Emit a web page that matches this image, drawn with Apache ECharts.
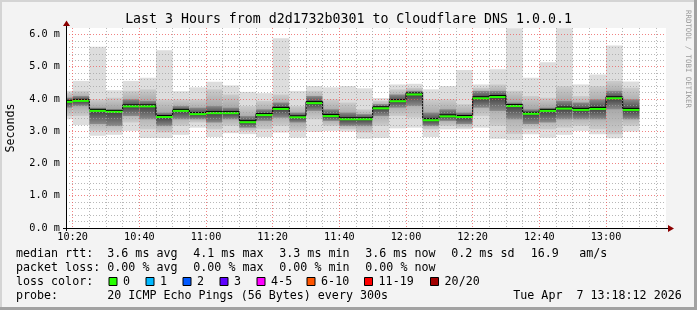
<!DOCTYPE html>
<html><head><meta charset="utf-8">
<script src="https://cdn.jsdelivr.net/npm/echarts@6/dist/echarts.min.js"></script>
<style>html,body{margin:0;padding:0;background:#f3f3f3;}#c{width:697px;height:310px;}</style>
</head><body><div id="c"></div>
<script>
// ---------------- data ----------------
const titleText = 'Last 3 Hours from d2d1732b0301 to Cloudflare DNS 1.0.0.1';
const axisStart = '10:18';
const axisEnd = '13:18';
const slotMinutes = 5;
const slotStarts = ['10:15','10:20','10:25','10:30','10:35','10:40','10:45','10:50','10:55',
  '11:00','11:05','11:10','11:15','11:20','11:25','11:30','11:35','11:40','11:45','11:50','11:55',
  '12:00','12:05','12:10','12:15','12:20','12:25','12:30','12:35','12:40','12:45','12:50','12:55',
  '13:00','13:05'];
// smoke (ms): min, lower bands, median, upper bands, max
const pingMin = [3.37,3.19,2.86,2.89,3.01,2.79,2.79,2.89,3.11,2.82,2.94,2.91,2.82,2.96,2.80,2.98,3.01,2.99,2.77,2.79,3.09,3.11,2.82,3.06,3.06,3.11,2.77,2.73,2.91,2.80,2.89,3.01,2.91,2.78,2.99];
const pingLo2 = [3.47,3.47,3.01,3.01,3.27,3.06,2.96,3.16,3.27,3.06,3.16,3.01,3.06,3.16,3.01,3.37,3.16,3.06,2.96,3.16,3.47,3.42,3.06,3.16,3.11,3.47,3.16,2.91,3.06,3.06,3.11,3.16,3.06,2.91,3.16];
const pingLo1 = [3.73,3.78,3.22,3.16,3.47,3.37,3.16,3.37,3.37,3.27,3.37,3.11,3.32,3.42,3.27,3.63,3.32,3.16,3.16,3.47,3.73,3.78,3.16,3.32,3.22,3.73,3.63,3.37,3.22,3.27,3.37,3.37,3.37,3.68,3.37];
const pingMedian = [3.91,3.94,3.63,3.60,3.77,3.77,3.44,3.63,3.53,3.56,3.56,3.28,3.50,3.69,3.43,3.87,3.47,3.37,3.37,3.71,3.93,4.14,3.34,3.46,3.44,4.02,4.06,3.78,3.54,3.63,3.70,3.66,3.69,4.02,3.66];
const pingHi1 = [4.04,4.09,3.73,3.68,3.99,3.94,3.58,3.78,3.73,3.78,3.73,3.47,3.68,3.89,3.58,4.09,3.68,3.58,3.53,3.84,4.14,4.25,3.58,3.68,3.58,4.25,4.25,3.89,3.68,3.73,3.94,3.89,3.99,4.25,3.99];
const pingHi2 = [4.20,4.25,3.99,4.04,4.25,4.30,3.99,3.99,3.99,4.30,4.14,3.78,3.94,4.14,3.78,4.25,3.99,3.89,3.68,3.94,4.30,4.35,3.99,3.99,3.84,4.35,4.45,4.25,4.09,4.04,4.40,4.09,4.40,4.56,4.35];
const pingMax = [4.25,4.56,5.62,4.27,4.56,4.66,5.51,4.24,4.36,4.53,4.42,4.22,4.18,5.88,4.25,4.40,4.36,4.40,4.33,4.03,4.45,4.47,4.30,4.40,4.90,4.45,4.92,6.19,4.66,5.14,6.19,4.45,4.76,5.66,4.54];
const lossIndex = [0,0,0,0,0,0,0,0,0,0,0,0,0,0,0,0,0,0,0,0,0,0,0,0,0,0,0,0,0,0,0,0,0,0,0];
const yMin = 0, yMax = 6.2, yMinorStep = 0.2, yMajorStep = 1;
const xMajorStep = 20, xMinorStep = 5;
const medianStats = ['3.6 ms avg','4.1 ms max','3.3 ms min','3.6 ms now','0.2 ms sd','16.9','am/s'];
const lossStats = ['0.00 % avg','0.00 % max','0.00 % min','0.00 % now'];
const lossLabels = ['0','1','2','3','4-5','6-10','11-19','20/20'];
const lossColors = ['#26ff00','#00b8ff','#0059ff','#5e00ff','#ff00ff','#ff5500','#ff0000','#a10000'];
const probeText = '20 ICMP Echo Pings (56 Bytes) every 300s';
const stampText = 'Tue Apr  7 13:18:12 2026';
const watermark = 'RRDTOOL / TOBI OETIKER';

// ---------------- helpers ----------------
const toMin = s => { const [h, m] = s.split(':').map(Number); return (h - 10) * 60 + m; };
const fmt = t => { const h = 10 + Math.floor(t / 60), m = t % 60; return h + ':' + (m < 10 ? '0' : '') + m; };
const xMin = toMin(axisStart), xMax = toMin(axisEnd);
const MONO = '"DejaVu Sans Mono", monospace';
const GRID = { left: 66, top: 28, width: 600, height: 200 };

const xColors = [];
for (let t = xMin; t <= xMax; t++) xColors.push(t % xMajorStep === 0 ? 'rgba(235,90,90,0.75)' : (t % xMinorStep === 0 ? 'rgba(160,160,160,0.75)' : 'rgba(0,0,0,0)'));
const yColors = [];
for (let i = 0; i <= Math.round((yMax - yMin) / yMinorStep); i++) yColors.push(i % Math.round(yMajorStep / yMinorStep) === 0 ? 'rgba(235,90,90,0.75)' : 'rgba(160,160,160,0.75)');

const smokeData = slotStarts.map((s, i) => {
  const a = toMin(s);
  return [a, a + slotMinutes, pingMin[i], pingLo2[i], pingLo1[i], pingMedian[i], pingHi1[i], pingHi2[i], pingMax[i]];
});

function clip(r, cs) {
  return echarts.graphic.clipRectByRect(r, { x: cs.x, y: cs.y, width: cs.width, height: cs.height });
}

function renderSmoke(params, api) {
  const cs = params.coordSys;
  const s = api.value(0), e = api.value(1);
  const band = (lo, hi, fill) => {
    const p0 = api.coord([s, hi]), p1 = api.coord([e, lo]);
    const r = clip({ x: p0[0], y: p0[1], width: p1[0] - p0[0], height: p1[1] - p0[1] }, cs);
    return r ? { type: 'rect', shape: r, style: { fill: fill } } : null;
  };
  const lo1 = api.value(4), med = api.value(5), hi1 = api.value(6);
  const t = Math.min(0.95, Math.max(0.05, (hi1 - med) / (hi1 - lo1)));
  const lo2 = api.value(3), hi2 = api.value(7);
  const t2 = Math.min(0.95, Math.max(0.05, (hi2 - med) / (hi2 - lo2)));
  const children = [
    band(api.value(2), api.value(8), '#dddddd'),
    band(lo2, hi2, new echarts.graphic.LinearGradient(0, 0, 0, 1, [
      { offset: 0, color: '#cccccc' }, { offset: t2, color: '#999999' }, { offset: 1, color: '#cccccc' }])),
    band(lo1, hi1, new echarts.graphic.LinearGradient(0, 0, 0, 1, [
      { offset: 0, color: '#8c8c8c' }, { offset: t, color: '#424242' }, { offset: 1, color: '#8c8c8c' }]))
  ].filter(Boolean);
  return { type: 'group', children };
}

function renderMedian(params, api) {
  const cs = params.coordSys;
  const i = params.dataIndex;
  const s = api.value(0), e = api.value(1), m = api.value(5);
  const p0 = api.coord([s, m]), p1 = api.coord([e, m]);
  const x0 = Math.max(p0[0], cs.x), x1 = Math.min(p1[0], cs.x + cs.width);
  const children = [];
  if (i > 0) {
    const q = api.coord([s, pingMedian[i - 1]]);
    if (q[0] >= cs.x) children.push({ type: 'line', shape: { x1: q[0], y1: q[1] - 1.5, x2: p0[0], y2: p0[1] - 1.5 }, style: { stroke: '#000', lineWidth: 1 } });
  }
  children.push({ type: 'line', shape: { x1: x0, y1: p0[1] - 1.5, x2: x1, y2: p0[1] - 1.5 }, style: { stroke: '#000', lineWidth: 1 } });
  children.push({ type: 'line', shape: { x1: x0, y1: p0[1], x2: x1, y2: p0[1] }, style: { stroke: lossColors[lossIndex[i]], lineWidth: 2 } });
  return { type: 'group', children };
}

// ---------------- legend graphics ----------------
const txt = (x, y, text, opts) => Object.assign({ type: 'text', x, y, style: Object.assign({ text, fontFamily: MONO, fontSize: 11.66, fill: '#000', verticalAlign: 'middle', align: 'left' }, opts || {}) });
const rowY = [254.3, 267.7, 281.7, 296];
const medX = [107.3, 193.3, 279.3, 365.3, 451.3, 530.7, 579.3];
const lossX = [107.3, 193.3, 279.3, 365.3];
const boxX = [108.5, 145.5, 182.5, 219.5, 256.5, 306.5, 364, 430];
const graphics = [];
graphics.push(txt(348.5, 19.5, titleText, { fontSize: 13.25, align: 'center' }));
graphics.push(txt(16, rowY[0], 'median rtt:'));
medianStats.forEach((s, i) => graphics.push(txt(medX[i], rowY[0], s)));
graphics.push(txt(16, rowY[1], 'packet loss:'));
lossStats.forEach((s, i) => graphics.push(txt(lossX[i], rowY[1], s)));
graphics.push(txt(16, rowY[2], 'loss color:'));
lossLabels.forEach((l, i) => {
  graphics.push({ type: 'rect', shape: { x: boxX[i] + 0.5, y: 277.5, width: 8, height: 8 }, style: { fill: lossColors[i], stroke: '#000', lineWidth: 1 } });
  graphics.push(txt(boxX[i] + 14.6, rowY[2], l));
});
graphics.push(txt(16, rowY[3], 'probe:'));
graphics.push(txt(107.3, rowY[3], probeText));
graphics.push(txt(513.3, rowY[3], stampText));
graphics.push(txt(687.5, 59, watermark, { fontSize: 7.4, fill: '#9a9a9a', align: 'center' }));
graphics[graphics.length - 1].rotation = -Math.PI / 2;
// frame shading
graphics.push({ type: 'rect', shape: { x: 0, y: 0, width: 697, height: 2 }, style: { fill: '#d4d4d4' } });
graphics.push({ type: 'rect', shape: { x: 0, y: 0, width: 2, height: 310 }, style: { fill: '#d4d4d4' } });
graphics.push({ type: 'rect', shape: { x: 0, y: 307, width: 697, height: 3 }, style: { fill: '#a2a2a2' } });
graphics.push({ type: 'rect', shape: { x: 694, y: 0, width: 3, height: 310 }, style: { fill: '#a2a2a2' } });
// axis arrows
const axX = GRID.left, axY = GRID.top + GRID.height, axR = GRID.left + GRID.width;
graphics.push({ type: 'line', shape: { x1: axR, y1: axY + 0.5, x2: axR + 4, y2: axY + 0.5 }, style: { stroke: '#000', lineWidth: 1 }, z: 50 });
graphics.push({ type: 'polygon', shape: { points: [[axR + 2, axY - 3], [axR + 8, axY + 0.5], [axR + 2, axY + 4]] }, style: { fill: '#8b0000' }, z: 50 });
graphics.push({ type: 'line', shape: { x1: axX + 0.5, y1: GRID.top, x2: axX + 0.5, y2: GRID.top - 3 }, style: { stroke: '#000', lineWidth: 1 }, z: 50 });
graphics.push({ type: 'polygon', shape: { points: [[axX - 3, GRID.top - 2], [axX + 0.5, GRID.top - 7.5], [axX + 4, GRID.top - 2]] }, style: { fill: '#8b0000' }, z: 50 });
graphics.push({ type: 'line', shape: { x1: axX - 3, y1: axY + 0.5, x2: axX, y2: axY + 0.5 }, style: { stroke: '#000', lineWidth: 1 }, z: 50 });
graphics.push({ type: 'line', shape: { x1: axX + 0.5, y1: axY, x2: axX + 0.5, y2: axY + 3 }, style: { stroke: '#000', lineWidth: 1 }, z: 50 });

const chart = echarts.init(document.getElementById('c'), null, { renderer: 'canvas' });
chart.setOption({
  animation: false,
  backgroundColor: '#f3f3f3',
  grid: Object.assign({ show: true, backgroundColor: '#ffffff', borderWidth: 0, containLabel: false, outerBoundsMode: 'none' }, GRID),
  xAxis: {
    type: 'value', min: xMin, max: xMax, interval: 1, z: 10,
    axisLine: { show: true, onZero: false, lineStyle: { color: '#000', width: 1 } },
    axisTick: { show: false },
    axisLabel: { margin: 4, fontFamily: MONO, fontSize: 10.2, color: '#000', formatter: v => (v % xMajorStep === 0 ? fmt(v) : '') },
    splitLine: { show: true, lineStyle: { color: xColors, type: [1, 2], width: 1 } }
  },
  yAxis: {
    type: 'value', min: yMin, max: yMax, interval: yMinorStep, z: 10,
    name: 'Seconds', nameLocation: 'middle', nameGap: 49, nameRotate: 90,
    nameTextStyle: { fontFamily: MONO, fontSize: 11.66, color: '#000' },
    axisLine: { show: true, lineStyle: { color: '#000', width: 1 } },
    axisTick: { show: false },
    axisLabel: { margin: 6, fontFamily: MONO, fontSize: 10.2, color: '#000',
      formatter: v => (Math.abs(v - Math.round(v)) < 1e-6 ? v.toFixed(1) + ' m' : '') },
    splitLine: { show: true, showMaxLine: false, lineStyle: { color: yColors, type: [1, 2], width: 1 } }
  },
  series: [
    { type: 'custom', renderItem: renderSmoke, data: smokeData, z: 2, silent: true },
    { type: 'custom', renderItem: renderMedian, data: smokeData, z: 3, silent: true }
  ],
  graphic: graphics
});
</script></body></html>
